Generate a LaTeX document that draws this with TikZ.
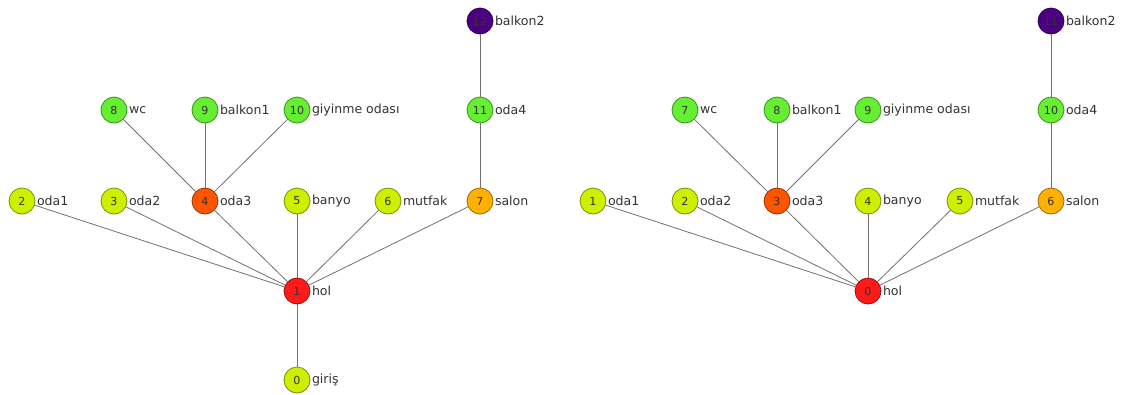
\documentclass[tikz,border=0pt]{standalone}
\usepackage{fontspec}
\setmainfont{DejaVu Sans}
\usetikzlibrary{positioning}
\definecolor{lime}{HTML}{CCF000}
\definecolor{leaf}{HTML}{66EE33}
\definecolor{flame}{HTML}{FF5500}
\definecolor{scarlet}{HTML}{FF1A1A}
\definecolor{amber}{HTML}{FFB000}
\definecolor{indigo}{HTML}{4B0082}
\definecolor{edgegray}{HTML}{707070}
\definecolor{ink}{HTML}{333333}
\tikzset{
  room/.style={circle, draw=#1!60!black, fill=#1, line width=0.6pt,
               minimum size=19.5pt, inner sep=0pt, font=\fontsize{8.3}{9}\selectfont,
               text=ink, label distance=0.3pt},
  tag/.style={font=\fontsize{9.4}{10}\selectfont, text=ink, inner sep=1pt},
  link/.style={draw=edgegray, line width=0.6pt}
}
\begin{document}
\begin{tikzpicture}[x=0.75pt, y=-0.75pt]
\useasboundingbox (0,0) rectangle (1122,394);
% left plan
\node[room=scarlet, label={[tag]right:hol}] (Lhol) at (297,291) {1};
\node[room=lime, label={[tag]right:giriş}] (Lgiris) at (297,380) {0};
\node[room=lime, label={[tag]right:oda1}] (Loda1) at (22,201) {2};
\node[room=lime, label={[tag]right:oda2}] (Loda2) at (114,201) {3};
\node[room=flame, label={[tag]right:oda3}] (Loda3) at (205,201) {4};
\node[room=lime, label={[tag]right:banyo}] (Lbanyo) at (297,201) {5};
\node[room=lime, label={[tag]right:mutfak}] (Lmutfak) at (388,201) {6};
\node[room=amber, label={[tag]right:salon}] (Lsalon) at (480,201) {7};
\node[room=leaf, label={[tag]right:wc}] (Lwc) at (114,110) {8};
\node[room=leaf, label={[tag]right:balkon1}] (Lbalkon1) at (205,110) {9};
\node[room=leaf, label={[tag]right:giyinme odası}] (Lgiyinme) at (297,110) {10};
\node[room=leaf, label={[tag]right:oda4}] (Loda4) at (480,110) {11};
\node[room=indigo, label={[tag]right:balkon2}] (Lbalkon2) at (480,21) {12};

\draw[link] (Lhol) -- (Lgiris);
\foreach \n in {oda1,oda2,oda3,banyo,mutfak,salon}
  \draw[link] (Lhol) -- (L\n);
\foreach \n in {wc,balkon1,giyinme}
  \draw[link] (Loda3) -- (L\n);
\draw[link] (Lsalon) -- (Loda4);
\draw[link] (Loda4) -- (Lbalkon2);

% right plan
\node[room=scarlet, label={[tag]right:hol}] (Rhol) at (868,291) {0};
\node[room=lime, label={[tag]right:oda1}] (Roda1) at (593,201) {1};
\node[room=lime, label={[tag]right:oda2}] (Roda2) at (685,201) {2};
\node[room=flame, label={[tag]right:oda3}] (Roda3) at (777,201) {3};
\node[room=lime, label={[tag]right:banyo}] (Rbanyo) at (868,201) {4};
\node[room=lime, label={[tag]right:mutfak}] (Rmutfak) at (960,201) {5};
\node[room=amber, label={[tag]right:salon}] (Rsalon) at (1051,201) {6};
\node[room=leaf, label={[tag]right:wc}] (Rwc) at (685,110) {7};
\node[room=leaf, label={[tag]right:balkon1}] (Rbalkon1) at (777,110) {8};
\node[room=leaf, label={[tag]right:giyinme odası}] (Rgiyinme) at (868,110) {9};
\node[room=leaf, label={[tag]right:oda4}] (Roda4) at (1051,110) {10};
\node[room=indigo, label={[tag]right:balkon2}] (Rbalkon2) at (1051,21) {11};

\foreach \n in {oda1,oda2,oda3,banyo,mutfak,salon}
  \draw[link] (Rhol) -- (R\n);
\foreach \n in {wc,balkon1,giyinme}
  \draw[link] (Roda3) -- (R\n);
\draw[link] (Rsalon) -- (Roda4);
\draw[link] (Roda4) -- (Rbalkon2);
\end{tikzpicture}
\end{document}
